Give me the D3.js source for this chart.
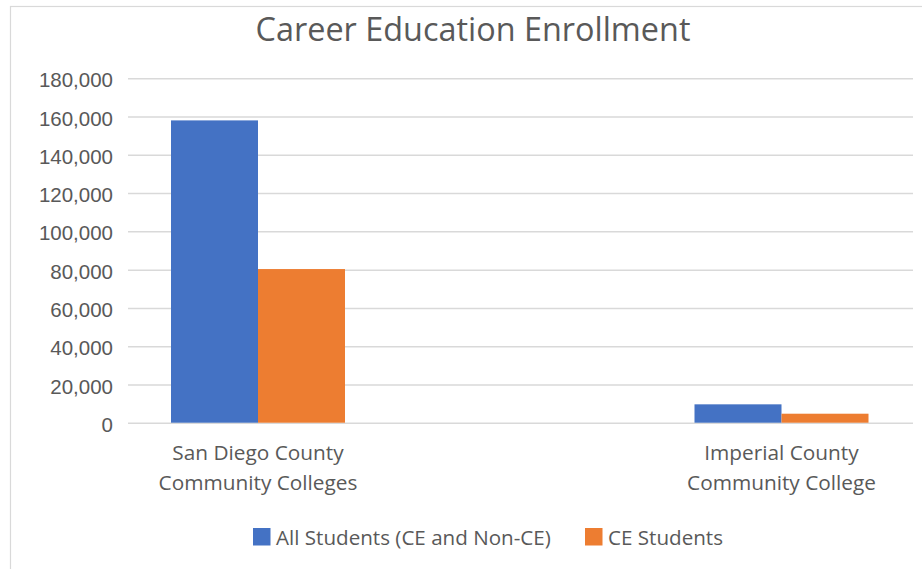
<!DOCTYPE html>
<html>
<head>
<meta charset="utf-8">
<script src="https://cdn.jsdelivr.net/npm/d3@7"></script>
<style>
  html, body { margin: 0; padding: 0; background: #ffffff; }
  svg { display: block; font-family: "Open Sans", "Noto Sans", sans-serif; }
</style>
</head>
<body>
<svg id="chart" width="922" height="569"></svg>
<script>
// Enrollment data
const categories = [
  ["San Diego County", "Community Colleges"],
  ["Imperial County", "Community College"]
];
const seriesNames = ["All Students (CE and Non-CE)", "CE Students"];
const allStudents = [158000, 9600];
const ceStudents = [80300, 4700];
const yTicks = [0, 20000, 40000, 60000, 80000, 100000, 120000, 140000, 160000, 180000];
const colors = ["#4472C4", "#ED7D31"];

const svg = d3.select("#chart");
const textColor = "#595959";
const gridColor = "#D9D9D9";

// Chart frame
svg.append("rect")
  .attr("x", 10.5).attr("y", 6.5)
  .attr("width", 1000).attr("height", 1000)
  .attr("fill", "none").attr("stroke", gridColor).attr("stroke-width", 1.2);

const plot = { left: 128, right: 913, top: 78.3, bottom: 422.7 };

const y = d3.scaleLinear().domain([0, 180000]).range([plot.bottom, plot.top]);
const catKeys = categories.map(c => c.join(" "));
const x = d3.scalePoint().domain(catKeys).range([258, 781.5]);
const barW = 87;
const xs = d3.scaleBand().domain(seriesNames).range([-barW, barW]).padding(0);

// Gridlines and tick labels
const yAxis = d3.axisLeft(y)
  .tickValues(yTicks)
  .tickSize(-(plot.right - plot.left))
  .tickPadding(15)
  .tickFormat(d3.format(","));
const gy = svg.append("g")
  .attr("transform", `translate(${plot.left},0)`)
  .call(yAxis);
gy.select(".domain").remove();
gy.selectAll(".tick line").attr("stroke", gridColor).attr("stroke-width", 1.5);
gy.selectAll(".tick text")
  .attr("fill", textColor)
  .attr("font-size", 20.5)
  .attr("dy", "0.42em");

// Bars
const rows = catKeys.map((k, i) => ({ key: k, values: [allStudents[i], ceStudents[i]] }));
const groups = svg.append("g").selectAll("g")
  .data(rows).join("g")
  .attr("transform", d => `translate(${x(d.key)},0)`);
groups.selectAll("rect")
  .data(d => d.values.map((v, j) => ({ name: seriesNames[j], value: v, color: colors[j] })))
  .join("rect")
  .attr("x", d => xs(d.name))
  .attr("width", xs.bandwidth())
  .attr("y", d => y(d.value))
  .attr("height", d => y(0) - y(d.value))
  .attr("fill", d => d.color);

// Category labels
const catLabels = svg.append("g").selectAll("text")
  .data(categories).join("text")
  .attr("x", (d, i) => x(catKeys[i]))
  .attr("y", 460)
  .attr("text-anchor", "middle")
  .attr("fill", textColor)
  .attr("font-size", 20.8);
catLabels.selectAll("tspan")
  .data(d => d).join("tspan")
  .attr("x", function () { return d3.select(this.parentNode).attr("x"); })
  .attr("dy", (d, i) => i === 0 ? 0 : 30)
  .text(d => d);

// Title
svg.append("text")
  .attr("x", 473).attr("y", 41)
  .attr("text-anchor", "middle")
  .attr("fill", textColor)
  .attr("font-size", 32.4)
  .text("Career Education Enrollment");

// Legend
const legendX = [253, 585];
const legend = svg.append("g").selectAll("g")
  .data(seriesNames).join("g")
  .attr("transform", (d, i) => `translate(${legendX[i]},528)`);
legend.append("rect")
  .attr("width", 17.5).attr("height", 17.5)
  .attr("fill", (d, i) => colors[i]);
legend.append("text")
  .attr("x", 23).attr("y", 16.5)
  .attr("fill", textColor)
  .attr("font-size", 20.6)
  .text(d => d);
</script>
</body>
</html>
